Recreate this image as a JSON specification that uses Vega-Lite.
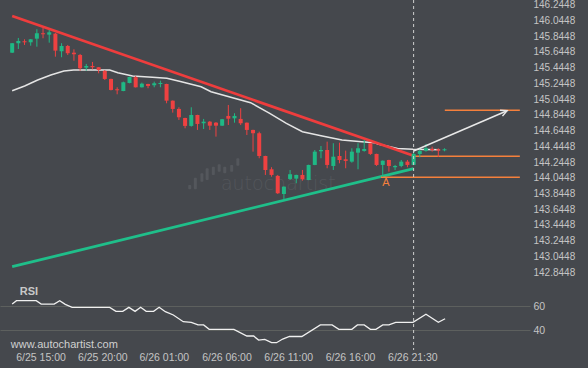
{
  "$schema": "https://vega.github.io/schema/vega-lite/v6.json",
  "width": 530,
  "height": 350,
  "autosize": {"type": "none"},
  "padding": {"left": 0, "top": 0, "right": 58, "bottom": 18},
  "background": "#45484d",
  "config": {"view": {"stroke": null}, "font": "Liberation Sans", "axis": {"labelOverlap": false, "labelBound": false}},
  "datasets": {
    "candles": [
      {"i":0,"o":145.635,"h":145.758,"l":145.631,"c":145.755},
      {"i":1,"o":145.755,"h":145.822,"l":145.682,"c":145.784},
      {"i":2,"o":145.780,"h":145.805,"l":145.733,"c":145.767},
      {"i":3,"o":145.767,"h":145.809,"l":145.724,"c":145.805},
      {"i":4,"o":145.813,"h":145.933,"l":145.711,"c":145.882},
      {"i":5,"o":145.882,"h":145.953,"l":145.818,"c":145.869},
      {"i":6,"o":145.864,"h":145.924,"l":145.762,"c":145.894},
      {"i":7,"o":145.877,"h":145.886,"l":145.584,"c":145.661},
      {"i":8,"o":145.653,"h":145.755,"l":145.577,"c":145.720},
      {"i":9,"o":145.720,"h":145.733,"l":145.606,"c":145.628},
      {"i":10,"o":145.635,"h":145.678,"l":145.533,"c":145.615},
      {"i":11,"o":145.606,"h":145.619,"l":145.406,"c":145.437},
      {"i":12,"o":145.445,"h":145.492,"l":145.406,"c":145.466},
      {"i":13,"o":145.466,"h":145.517,"l":145.424,"c":145.450},
      {"i":14,"o":145.450,"h":145.453,"l":145.373,"c":145.415},
      {"i":15,"o":145.403,"h":145.415,"l":145.288,"c":145.301},
      {"i":16,"o":145.301,"h":145.305,"l":145.155,"c":145.161},
      {"i":17,"o":145.170,"h":145.195,"l":145.106,"c":145.157},
      {"i":18,"o":145.148,"h":145.267,"l":145.145,"c":145.259},
      {"i":19,"o":145.250,"h":145.330,"l":145.246,"c":145.326},
      {"i":20,"o":145.323,"h":145.339,"l":145.192,"c":145.195},
      {"i":21,"o":145.195,"h":145.254,"l":145.192,"c":145.241},
      {"i":22,"o":145.237,"h":145.240,"l":145.183,"c":145.212},
      {"i":23,"o":145.221,"h":145.267,"l":145.195,"c":145.246},
      {"i":24,"o":145.237,"h":145.279,"l":145.195,"c":145.250},
      {"i":25,"o":145.237,"h":145.240,"l":144.992,"c":145.025},
      {"i":26,"o":145.025,"h":145.028,"l":144.873,"c":144.920},
      {"i":27,"o":144.920,"h":144.941,"l":144.780,"c":144.814},
      {"i":28,"o":144.805,"h":144.808,"l":144.674,"c":144.704},
      {"i":29,"o":144.704,"h":144.941,"l":144.695,"c":144.843},
      {"i":30,"o":144.843,"h":144.846,"l":144.653,"c":144.729},
      {"i":31,"o":144.738,"h":144.793,"l":144.665,"c":144.758},
      {"i":32,"o":144.758,"h":144.767,"l":144.653,"c":144.707},
      {"i":33,"o":144.745,"h":144.754,"l":144.568,"c":144.707},
      {"i":34,"o":144.707,"h":144.793,"l":144.704,"c":144.789},
      {"i":35,"o":144.831,"h":144.970,"l":144.716,"c":144.796},
      {"i":36,"o":144.801,"h":144.865,"l":144.745,"c":144.831},
      {"i":37,"o":144.793,"h":144.929,"l":144.716,"c":144.738},
      {"i":38,"o":144.745,"h":144.748,"l":144.589,"c":144.653},
      {"i":39,"o":144.653,"h":144.656,"l":144.377,"c":144.611},
      {"i":40,"o":144.611,"h":144.631,"l":144.293,"c":144.322},
      {"i":41,"o":144.322,"h":144.325,"l":144.081,"c":144.144},
      {"i":42,"o":144.153,"h":144.179,"l":144.059,"c":144.081},
      {"i":43,"o":144.068,"h":144.081,"l":143.839,"c":143.848},
      {"i":44,"o":143.839,"h":143.935,"l":143.763,"c":143.932},
      {"i":45,"o":144.030,"h":144.144,"l":144.017,"c":144.090},
      {"i":46,"o":144.034,"h":144.084,"l":143.975,"c":144.081},
      {"i":47,"o":144.081,"h":144.144,"l":144.008,"c":144.026},
      {"i":48,"o":144.017,"h":144.211,"l":144.014,"c":144.208},
      {"i":49,"o":144.208,"h":144.398,"l":144.205,"c":144.377},
      {"i":50,"o":144.382,"h":144.449,"l":144.293,"c":144.398},
      {"i":51,"o":144.398,"h":144.504,"l":144.166,"c":144.208},
      {"i":52,"o":144.195,"h":144.484,"l":144.144,"c":144.313},
      {"i":53,"o":144.322,"h":144.491,"l":144.229,"c":144.271},
      {"i":54,"o":144.280,"h":144.390,"l":144.166,"c":144.259},
      {"i":55,"o":144.250,"h":144.420,"l":144.237,"c":144.377},
      {"i":56,"o":144.364,"h":144.484,"l":144.153,"c":144.420},
      {"i":57,"o":144.386,"h":144.526,"l":144.377,"c":144.411},
      {"i":58,"o":144.484,"h":144.487,"l":144.335,"c":144.348},
      {"i":59,"o":144.348,"h":144.351,"l":144.195,"c":144.208},
      {"i":60,"o":144.208,"h":144.265,"l":144.059,"c":144.262},
      {"i":61,"o":144.271,"h":144.274,"l":144.123,"c":144.195},
      {"i":62,"o":144.179,"h":144.208,"l":144.144,"c":144.195},
      {"i":63,"o":144.195,"h":144.271,"l":144.179,"c":144.250},
      {"i":64,"o":144.250,"h":144.271,"l":144.179,"c":144.208},
      {"i":65,"o":144.208,"h":144.377,"l":144.205,"c":144.348},
      {"i":66,"o":144.348,"h":144.407,"l":144.305,"c":144.386},
      {"i":67,"o":144.389,"h":144.475,"l":144.377,"c":144.420},
      {"i":68,"o":144.411,"h":144.440,"l":144.377,"c":144.398},
      {"i":69,"o":144.407,"h":144.420,"l":144.309,"c":144.389},
      {"i":70,"o":144.394,"h":144.420,"l":144.382,"c":144.407}
    ],
    "ma": [
      {"i":0,"p":145.152},{"i":2.02,"p":145.211},{"i":4.13,"p":145.288},{"i":6.26,"p":145.351},
      {"i":8.37,"p":145.402},{"i":9.96,"p":145.415},{"i":15.8,"p":145.415},{"i":17.1,"p":145.380},
      {"i":19.5,"p":145.338},{"i":22.7,"p":145.322},{"i":25.05,"p":145.309},{"i":27.4,"p":145.266},
      {"i":29.0,"p":145.233},{"i":30.6,"p":145.202},{"i":32.2,"p":145.139},{"i":38.6,"p":144.999},
      {"i":41.7,"p":144.864},{"i":44.4,"p":144.737},{"i":47.0,"p":144.631},{"i":50.2,"p":144.576},
      {"i":53.4,"p":144.525},{"i":56.6,"p":144.503},{"i":58.7,"p":144.491},{"i":59.2,"p":144.474},
      {"i":62.4,"p":144.417},{"i":64.9,"p":144.407},{"i":69.2,"p":144.402}
    ],
    "trend": [
      {"s":"r","i":0,"p":146.101},{"s":"r","i":65,"p":144.325},
      {"s":"g","i":0,"p":142.915},{"s":"g","i":65,"p":144.16}
    ],
    "orange": [
      {"i":70.05,"i2":82.2,"p":144.903},
      {"i":65,"i2":82.2,"p":144.318},
      {"i":59.7,"i2":82.2,"p":144.051}
    ],
    "arrow": [{"i":65,"p":144.385},{"i":80.13,"p":144.897}],
    "wm": [
      {"i":28.75,"lo":143.899,"hi":143.953},
      {"i":29.66,"lo":143.899,"hi":144.046},
      {"i":30.72,"lo":143.995,"hi":144.102},
      {"i":31.57,"lo":144.017,"hi":144.165},
      {"i":32.57,"lo":144.080,"hi":144.186},
      {"i":33.52,"lo":144.122,"hi":144.216},
      {"i":34.42,"lo":144.102,"hi":144.186},
      {"i":35.54,"lo":144.122,"hi":144.207},
      {"i":36.54,"lo":144.198,"hi":144.292}
    ],
    "rsi": [
      {"i":0,"r":61.6},{"i":0.7,"r":64.4},{"i":3.9,"r":64.4},{"i":4.7,"r":61.6},{"i":6.8,"r":61.6},
      {"i":7.7,"r":64.4},{"i":8.6,"r":61.4},{"i":9.7,"r":58.9},{"i":15.8,"r":58.9},{"i":16.8,"r":55.6},
      {"i":17.9,"r":55.6},{"i":18.9,"r":58.9},{"i":19.9,"r":55.6},{"i":20.8,"r":58.9},{"i":21.7,"r":55.6},
      {"i":22.9,"r":55.6},{"i":23.8,"r":58.9},{"i":24.8,"r":55.3},{"i":26.1,"r":52.6},{"i":27.7,"r":47.1},
      {"i":29.0,"r":46.6},{"i":30.1,"r":44.4},{"i":31.0,"r":44.4},{"i":31.9,"r":40.8},{"i":35.9,"r":40.8},
      {"i":38.0,"r":35.3},{"i":39.1,"r":35.3},{"i":39.9,"r":32.0},{"i":40.9,"r":32.6},{"i":42.0,"r":29.8},
      {"i":42.8,"r":29.8},{"i":43.8,"r":32.8},{"i":44.9,"r":34.9},{"i":46.9,"r":34.9},{"i":49.9,"r":44.4},
      {"i":51.8,"r":44.4},{"i":52.9,"r":40.8},{"i":55.0,"r":40.8},{"i":55.9,"r":44.4},{"i":57.0,"r":44.4},
      {"i":58.0,"r":40.8},{"i":58.9,"r":40.8},{"i":60.0,"r":44.4},{"i":61.0,"r":44.4},{"i":62.1,"r":46.6},
      {"i":64.9,"r":46.6},{"i":67.0,"r":53.2},{"i":69.0,"r":46.6},{"i":70.1,"r":49.5}
    ]
  },
  "encoding": {
    "x": {
      "field": "i", "type": "quantitative",
      "scale": {"domain": [-1.16, 83.035], "nice": false, "zero": false},
      "axis": {
        "values": [4.6, 14.6, 24.55, 34.7, 44.7, 54.7, 64.8],
        "tickCount": 20,
        "labelExpr": "datum.value < 10 ? '6/25 15:00' : datum.value < 20 ? '6/25 20:00' : datum.value < 30 ? '6/26 01:00' : datum.value < 40 ? '6/26 06:00' : datum.value < 50 ? '6/26 11:00' : datum.value < 60 ? '6/26 16:00' : '6/26 21:30'",
        "domain": false, "ticks": false, "grid": false, "labelPadding": 2,
        "labelColor": "#c4c4c4", "labelFontSize": 10.5, "labelFont": "Liberation Sans",
        "title": null, "labelFlush": false, "labelOverlap": false
      }
    }
  },
  "layer": [
    {
      "layer": [
        {
          "data": {"name": "wm"},
          "mark": {"type": "bar", "width": 3, "color": "#54575c", "cornerRadius": 1},
          "encoding": {
            "y": {"field": "lo", "type": "quantitative", "scale": {"domain": [141.856, 146.3045], "nice": false, "zero": false},
              "axis": {"orient": "right", "title": null, "values": [142.8448,143.0448,143.2448,143.4448,143.6448,143.8448,144.0448,144.2448,144.4448,144.6448,144.8448,145.0448,145.2448,145.4448,145.6448,145.8448,146.0448,146.2448],
                "tickCount": 40,
                "format": ".4f", "domain": false, "ticks": false, "grid": false, "labelPadding": 3,
                "labelColor": "#c4c4c4", "labelFontSize": 10, "labelFont": "Liberation Sans", "labelOverlap": false, "labelBound": false}},
            "y2": {"field": "hi"}
          }
        },
        {
          "data": {"values": [{"i": 33.8, "p": 143.89, "t": "autochartist"}]},
          "mark": {"type": "text", "align": "left", "baseline": "alphabetic", "font": "DejaVu Sans", "fontSize": 19, "fontWeight": 200, "color": "#53565b"},
          "encoding": {
            "y": {"field": "p", "type": "quantitative", "scale": {"domain": [141.856, 146.3045], "nice": false, "zero": false}},
            "text": {"field": "t"}
          }
        },
        {
          "data": {"name": "ma"},
          "mark": {"type": "line", "color": "#e4e4e4", "strokeWidth": 1.5},
          "encoding": {
            "y": {"field": "p", "type": "quantitative", "scale": {"domain": [141.856, 146.3045], "nice": false, "zero": false}}
          }
        },
        {
          "data": {"name": "trend"},
          "mark": {"type": "line", "strokeWidth": 2.8},
          "encoding": {
            "y": {"field": "p", "type": "quantitative", "scale": {"domain": [141.856, 146.3045], "nice": false, "zero": false}},
            "color": {"field": "s", "type": "nominal", "scale": {"domain": ["r", "g"], "range": ["#ee3d3d", "#1fbf8a"]}, "legend": null},
            "detail": {"field": "s"}
          }
        },
        {
          "data": {"name": "orange"},
          "mark": {"type": "rule", "color": "#f5803c", "strokeWidth": 1.5},
          "encoding": {
            "x2": {"field": "i2"},
            "y": {"field": "p", "type": "quantitative", "scale": {"domain": [141.856, 146.3045], "nice": false, "zero": false}}
          }
        },
        {
          "data": {"name": "candles"},
          "mark": {"type": "rule", "strokeWidth": 1},
          "encoding": {
            "y": {"field": "l", "type": "quantitative", "scale": {"domain": [141.856, 146.3045], "nice": false, "zero": false}},
            "y2": {"field": "h"},
            "color": {"condition": {"test": "datum.c >= datum.o", "value": "#1fb985"}, "value": "#ef4141"}
          }
        },
        {
          "data": {"name": "candles"},
          "mark": {"type": "bar", "width": 4},
          "encoding": {
            "y": {"field": "o", "type": "quantitative", "scale": {"domain": [141.856, 146.3045], "nice": false, "zero": false}},
            "y2": {"field": "c"},
            "color": {"condition": {"test": "datum.c >= datum.o", "value": "#1fb985"}, "value": "#ef4141"}
          }
        },
        {
          "data": {"name": "arrow"},
          "mark": {"type": "line", "color": "#e8e8e8", "strokeWidth": 1.5},
          "encoding": {
            "y": {"field": "p", "type": "quantitative", "scale": {"domain": [141.856, 146.3045], "nice": false, "zero": false}}
          }
        },
        {
          "data": {"values": [{"i": 80.13, "p": 144.897}]},
          "mark": {"type": "point", "shape": "M-1,-0.5L0,0L-1,0.5", "filled": false, "stroke": "#e8e8e8", "strokeWidth": 1.5, "size": 160, "angle": 337, "opacity": 1},
          "encoding": {
            "y": {"field": "p", "type": "quantitative", "scale": {"domain": [141.856, 146.3045], "nice": false, "zero": false}}
          }
        },
        {
          "data": {"values": [{"i": 60.5, "p": 143.975, "t": "A"}]},
          "mark": {"type": "text", "align": "center", "baseline": "middle", "fontSize": 11, "color": "#f5803c"},
          "encoding": {
            "y": {"field": "p", "type": "quantitative", "scale": {"domain": [141.856, 146.3045], "nice": false, "zero": false}},
            "text": {"field": "t"}
          }
        },
        {
          "data": {"values": [{"i": 65}]},
          "mark": {"type": "rule", "color": "#cfcfcf", "strokeWidth": 1, "strokeDash": [3, 3]},
          "encoding": {}
        }
      ]
    },
    {
      "layer": [
        {
          "data": {"name": "rsi"},
          "mark": {"type": "line", "color": "#f0f0f0", "strokeWidth": 1.3},
          "encoding": {
            "y": {"field": "r", "type": "quantitative", "scale": {"domain": [23.79, 311.85], "nice": false, "zero": false},
              "axis": {"orient": "right", "title": null, "values": [40, 60], "tickCount": 10, "domain": false, "ticks": false, "grid": true,
                "gridColor": "#5d605e", "gridWidth": 1, "labelPadding": 3, "labelColor": "#c4c4c4", "labelFontSize": 10.5, "labelFont": "Liberation Sans"}}
          }
        },
        {
          "data": {"values": [{"i": 1.22, "r": 71.9, "t": "RSI"}]},
          "mark": {"type": "text", "align": "left", "baseline": "middle", "fontSize": 11, "fontWeight": "bold", "color": "#c8c8c8"},
          "encoding": {
            "y": {"field": "r", "type": "quantitative", "scale": {"domain": [23.79, 311.85], "nice": false, "zero": false}},
            "text": {"field": "t"}
          }
        },
        {
          "data": {"values": [{"i": -0.21, "r": 27.9, "t": "www.autochartist.com"}]},
          "mark": {"type": "text", "align": "left", "baseline": "middle", "fontSize": 11, "color": "#d0d0d0"},
          "encoding": {
            "y": {"field": "r", "type": "quantitative", "scale": {"domain": [23.79, 311.85], "nice": false, "zero": false}},
            "text": {"field": "t"}
          }
        }
      ]
    }
  ],
  "resolve": {"scale": {"y": "independent"}, "axis": {"y": "independent"}}
}
